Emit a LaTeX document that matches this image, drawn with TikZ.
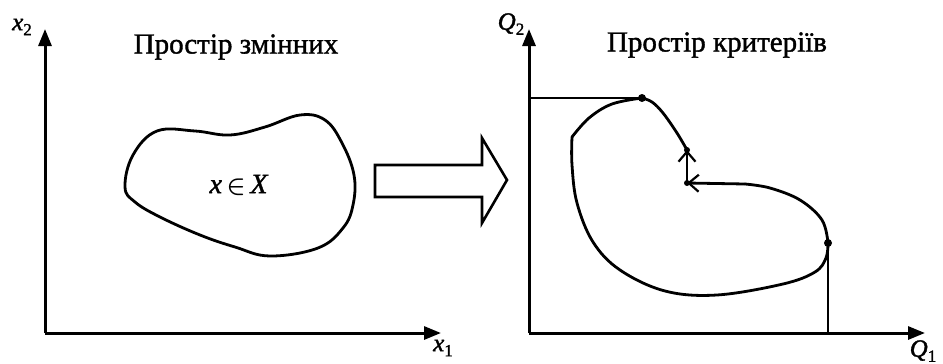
\documentclass[tikz,border=0pt]{standalone}
\usepackage{fontspec}
\setmainfont{Liberation Serif}
\newfontfamily\heavyfont{Liberation Serif}[FakeBold=1.3]
\usetikzlibrary{arrows.meta}
\begin{document}
\begin{tikzpicture}[x=1pt,y=-1pt,
  axis/.style={line width=3pt,-{Triangle[length=17pt,width=13pt]}},
  curve/.style={line width=2.8pt, line join=round, line cap=round},
  guide/.style={line width=1.7pt},
  title/.style={font=\heavyfont\fontsize{29}{30}\selectfont, inner sep=0pt},
  lab/.style={font=\heavyfont\fontsize{25}{26}\selectfont, inner sep=0pt},
  dot/.style={circle, fill, inner sep=0pt, minimum size=8pt},
  smalldot/.style={circle, fill, inner sep=0pt, minimum size=6pt},
  barb/.style={-{Straight Barb[length=10pt,width=17pt,line width=2.2pt]}}]
\useasboundingbox (0,0) rectangle (943,364);
\fill[white] (0,0) rectangle (943,364);

% ---------- left: variable space ----------
\coordinate (O1) at (45,333);
\coordinate (Y1) at (45,29);
\coordinate (X1) at (441,333);
\draw[axis] (O1) -- (Y1);
\draw[axis] (O1) -- (X1);
\node[lab] (x2) at (22,27) {\textit{x}\raisebox{-0.2em}{\fontsize{17}{17}\selectfont 2}};
\node[lab] (x1) at (443,348) {\textit{x}\raisebox{-0.2em}{\fontsize{17}{17}\selectfont 1}};
\node[title] (t1) at (236,47) {Простір змінних};

\draw[curve] plot[smooth cycle, tension=0.65] coordinates {
  (125,187) (133,155) (157,131) (195,131) (230,135) (265,127) (300,115)
  (325,120) (342,143) (354,175) (353,205) (343,228) (318,248) (270,256)
  (235,247) (200,235) (160,217) (135,202)};
\node[font=\heavyfont\fontsize{28}{28}\selectfont, inner sep=0pt] (xX) at (239,185) {\textit{x}\,{\boldmath$\in$}\,\textit{X}};

% ---------- hollow arrow ----------
\draw[line width=2.6pt, line join=miter] (375,165) -- (482,165) -- (482,138) -- (507,180)
  -- (482,223) -- (482,197) -- (375,197) -- cycle;

% ---------- right: criteria space ----------
\coordinate (O2) at (529,333);
\coordinate (Y2) at (529,29);
\coordinate (X2) at (925,333);
\draw[axis] (O2) -- (Y2);
\draw[axis] (O2) -- (X2);
\node[lab] (q2) at (511,24) {\textit{Q}\raisebox{-0.2em}{\fontsize{17}{17}\selectfont 2}};
\node[lab] (q1) at (923,351) {\textit{Q}\raisebox{-0.2em}{\fontsize{17}{17}\selectfont 1}};
\node[title] (t2) at (717,45) {Простір критеріїв};

\coordinate (dTop) at (642,98);
\coordinate (dRight) at (828,243);
\coordinate (P) at (687,150);
\coordinate (R) at (687,183);
\coordinate (K) at (572,137);

\draw[guide] (Y2 |- dTop) -- (dTop);
\draw[guide] (dRight) -- (dRight |- O2);

\draw[curve] plot[smooth, tension=0.6] coordinates {(dTop) (612,104) (589,118) (K)};
\draw[curve] plot[smooth, tension=0.6] coordinates {(K) (572,165) (577,203) (593,242)
  (620,270) (665,291) (717,295) (783,284) (815,272) (826,258) (dRight)};
\draw[curve] plot[smooth, tension=0.6] coordinates {(dRight) (822,220) (800,200) (770,188) (745,184)};
\draw[curve, barb] (745,184) -- (R);
\draw[curve, barb] (R) -- (P);
\draw[curve] plot[smooth, tension=0.6] coordinates {(P) (677,133) (663,113) (652,102) (dTop)};

\node[dot] at (dTop) {};
\node[dot] at (dRight) {};
\node[smalldot] at (P) {};
\node[smalldot] at (R) {};
\end{tikzpicture}
\end{document}
